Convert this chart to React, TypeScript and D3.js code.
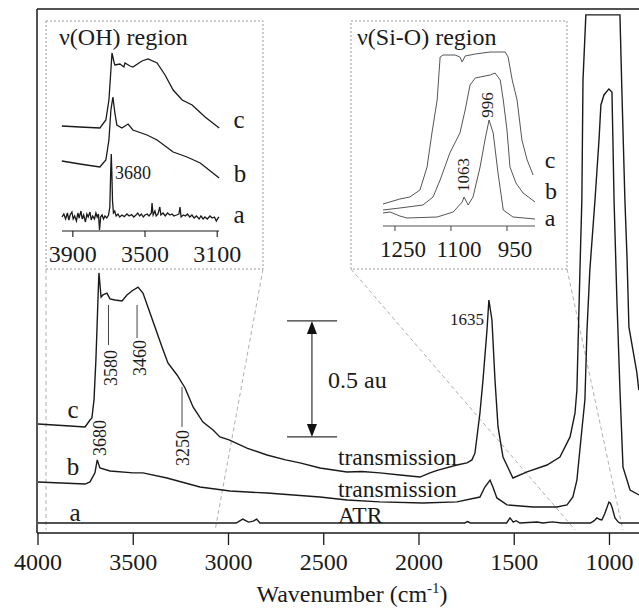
import React from "react";
import * as d3 from "d3";

type Pt = [number, number];

// main spectra: wavenumber (cm-1) vs absorbance (au), vertical offsets included
const mainC: Pt[] = [
  [4000, 0.427], [3832, 0.418], [3753, 0.414], [3727, 0.444], [3717, 0.453], [3706, 0.53],
  [3696, 0.703], [3690, 0.845], [3683, 1.017], [3680, 1.078], [3669, 0.974], [3659, 0.983],
  [3638, 0.991], [3622, 0.966], [3596, 0.961], [3559, 0.957], [3533, 0.983], [3507, 1.0],
  [3475, 1.017], [3449, 0.991], [3423, 0.931], [3386, 0.845], [3349, 0.759], [3318, 0.69],
  [3270, 0.638], [3228, 0.582], [3186, 0.5], [3134, 0.435], [3081, 0.401], [3045, 0.371],
  [2997, 0.358], [2900, 0.322], [2798, 0.293], [2700, 0.272], [2625, 0.259], [2520, 0.237],
  [2378, 0.22], [2300, 0.222], [2205, 0.216], [2100, 0.207], [1995, 0.198], [1942, 0.216],
  [1900, 0.228], [1801, 0.25], [1748, 0.259], [1722, 0.272], [1706, 0.302], [1680, 0.474],
  [1664, 0.616], [1643, 0.832], [1633, 0.961], [1617, 0.875], [1601, 0.616], [1585, 0.414],
  [1559, 0.284], [1507, 0.194], [1433, 0.22], [1328, 0.25], [1260, 0.284], [1207, 0.371],
  [1181, 0.474], [1171, 0.573], [1155, 1.09], [1145, 1.392], [1139, 1.909], [1124, 2.19],
  [945, 2.19], [935, 1.866], [919, 1.392], [908, 1.147], [898, 0.845], [877, 0.746],
  [856, 0.647], [846, 0.573],
];
const mainB: Pt[] = [
  [4000, 0.177], [3753, 0.168], [3727, 0.177], [3701, 0.216], [3689, 0.272], [3675, 0.237],
  [3622, 0.224], [3501, 0.216], [3449, 0.216], [3323, 0.194], [3150, 0.155], [2992, 0.138],
  [2798, 0.129], [2520, 0.112], [2378, 0.099], [2205, 0.091], [1979, 0.086], [1801, 0.091],
  [1680, 0.112], [1654, 0.155], [1627, 0.185], [1612, 0.155], [1591, 0.108], [1538, 0.078],
  [1402, 0.069], [1276, 0.069], [1223, 0.078], [1192, 0.112], [1171, 0.185], [1145, 0.401],
  [1129, 0.53], [1118, 0.832], [1103, 1.091], [1076, 1.392], [1055, 1.651], [1045, 1.802],
  [1029, 1.845], [1003, 1.871], [987, 1.858], [982, 1.651], [976, 1.392], [961, 0.961],
  [945, 0.573], [929, 0.241], [892, 0.142], [845, 0.121],
];
const mainA: Pt[] = [
  [4000, 0], [2960, 0], [2925, 0.017], [2895, 0.004], [2870, 0.008], [2852, 0.017], [2835, 0],
  [1760, 0], [1745, 0.006], [1730, 0], [1540, 0], [1522, 0.022], [1505, 0.004], [1490, 0.01],
  [1470, 0], [1380, 0.004], [1350, 0], [1300, 0.005], [1250, 0], [1100, 0], [1080, 0.01],
  [1066, 0.022], [1050, 0.015], [1040, 0.013], [1025, 0.04], [1003, 0.09], [995, 0.085],
  [987, 0.069], [971, 0.022], [955, 0.005], [945, 0], [845, 0],
];
const mainTicks = [4000, 3500, 3000, 2500, 2000, 1500, 1000];

// v(OH) inset, relative absorbance
const ohC: Pt[] = [
  [3961, 0.525], [3861, 0.52], [3750, 0.515], [3717, 0.555], [3700, 0.655], [3689, 0.805],
  [3683, 0.89], [3672, 0.845], [3667, 0.83], [3639, 0.835], [3617, 0.82], [3611, 0.84],
  [3583, 0.825], [3567, 0.82], [3517, 0.85], [3483, 0.86], [3433, 0.84], [3389, 0.78],
  [3344, 0.705], [3294, 0.655], [3239, 0.63], [3167, 0.57], [3089, 0.515],
];
const ohB: Pt[] = [
  [3961, 0.35], [3861, 0.335], [3750, 0.32], [3717, 0.355], [3700, 0.455], [3689, 0.605],
  [3678, 0.67], [3667, 0.59], [3656, 0.53], [3628, 0.515], [3594, 0.535], [3567, 0.505],
  [3489, 0.48], [3433, 0.455], [3344, 0.395], [3267, 0.37], [3194, 0.34], [3089, 0.265],
];
const ohA: Pt[] = [
  [3960, 0.07], [3950, 0.085], [3940, 0.06], [3930, 0.09], [3922, 0.055], [3915, 0.08],
  [3905, 0.095], [3898, 0.06], [3890, 0.075], [3880, 0.05], [3872, 0.09], [3865, 0.065],
  [3855, 0.1], [3848, 0.06], [3840, 0.08], [3830, 0.045], [3822, 0.085], [3815, 0.07],
  [3805, 0.095], [3798, 0.055], [3790, 0.075], [3780, 0.06], [3772, 0.09], [3765, 0.07],
  [3758, 0.085], [3752, 0.005], [3746, 0.07], [3738, 0.08], [3730, 0.06], [3722, 0.075],
  [3712, 0.065], [3702, 0.08], [3695, 0.12], [3690, 0.3], [3687, 0.385], [3684, 0.3],
  [3680, 0.15], [3675, 0.09], [3668, 0.1], [3660, 0.075], [3650, 0.085], [3640, 0.07],
  [3628, 0.08], [3615, 0.072], [3600, 0.085], [3588, 0.075], [3575, 0.082], [3562, 0.07],
  [3550, 0.08], [3540, 0.09], [3530, 0.075], [3520, 0.085], [3510, 0.07], [3500, 0.08],
  [3488, 0.085], [3478, 0.075], [3465, 0.09], [3461, 0.14], [3455, 0.08], [3445, 0.1],
  [3438, 0.075], [3428, 0.085], [3418, 0.12], [3412, 0.08], [3400, 0.09], [3388, 0.075],
  [3375, 0.09], [3362, 0.08], [3350, 0.085], [3340, 0.075], [3325, 0.08], [3312, 0.085],
  [3306, 0.12], [3300, 0.07], [3288, 0.08], [3276, 0.075], [3265, 0.085], [3252, 0.07],
  [3240, 0.08], [3228, 0.065], [3215, 0.075], [3200, 0.06], [3190, 0.075], [3178, 0.06],
  [3168, 0.07], [3155, 0.06], [3140, 0.075], [3128, 0.065], [3115, 0.07], [3105, 0.05],
  [3095, 0.065], [3090, 0.07],
];
const ohTicks = [3900, 3500, 3100];

// v(Si-O) inset, relative absorbance
const sioC: Pt[] = [
  [1282, 0.11], [1237, 0.135], [1210, 0.145], [1183, 0.18], [1164, 0.295], [1151, 0.465],
  [1137, 0.63], [1129, 0.845], [1121, 0.855], [1089, 0.855], [1076, 0.845], [1070, 0.82],
  [1062, 0.85], [1035, 0.86], [995, 0.87], [955, 0.87], [947, 0.845], [936, 0.73],
  [923, 0.63], [910, 0.43], [896, 0.33], [880, 0.255],
];
const sioB: Pt[] = [
  [1282, 0.08], [1237, 0.09], [1175, 0.105], [1148, 0.145], [1129, 0.23], [1103, 0.365],
  [1076, 0.465], [1062, 0.58], [1049, 0.705], [1035, 0.74], [995, 0.755], [982, 0.765],
  [968, 0.73], [960, 0.63], [950, 0.48], [942, 0.295], [926, 0.215], [907, 0.165], [875, 0.12],
];
const sioA: Pt[] = [
  [1282, 0.065], [1263, 0.07], [1237, 0.05], [1218, 0.04], [1137, 0.045], [1094, 0.07],
  [1070, 0.12], [1065, 0.145], [1054, 0.105], [1041, 0.145], [1022, 0.295], [1009, 0.43],
  [998, 0.53], [987, 0.465], [974, 0.265], [960, 0.08], [934, 0.045], [875, 0.035],
];
const sioTicks = [1250, 1100, 950];

const FONT = "'Liberation Serif', 'Times New Roman', serif";
const INK = "#1a1a1a";

export default function App() {
  const x = d3.scaleLinear().domain([4000, 845]).range([38, 639]);
  const y = d3.scaleLinear().domain([0, 1]).range([523, 291]);
  const line = d3.line<Pt>().x((d) => x(d[0])).y((d) => y(d[1]));

  const xOH = d3.scaleLinear().domain([3960, 3090]).range([62, 219]);
  const yOH = d3.scaleLinear().domain([0, 1]).range([231, 31]);
  const lineOH = d3.line<Pt>().x((d) => xOH(d[0])).y((d) => yOH(d[1]));

  const xSi = d3.scaleLinear().domain([1282, 875]).range([383, 535]);
  const ySi = d3.scaleLinear().domain([0, 1]).range([226, 26]);
  const lineSi = d3.line<Pt>().x((d) => xSi(d[0])).y((d) => ySi(d[1]));

  const axisY = y(-0.043);
  const topY = 9;

  // scale bar (0.5 au)
  const barBase = 0.371, barL = x(2693), barR = x(2430), barX = x(2562);
  const b0 = y(barBase), b1 = y(barBase + 0.5);

  const marks = [
    { wn: 3630, a1: 0.94, a2: 0.767, label: "3580", tw: 3617, ta: 0.668 },
    { wn: 3480, a1: 0.94, a2: 0.797, label: "3460", tw: 3465, ta: 0.711 },
    { wn: 3244, a1: 0.586, a2: 0.414, label: "3250", tw: 3239, ta: 0.323 },
  ];

  const zoomLines = [
    { bx: 46, wn: 3958 },
    { bx: 263, wn: 3070 },
    { bx: 351, wn: 1180 },
    { bx: 567, wn: 930 },
  ];

  const rot = (cx: number, cy: number, t: string, size = 18) => (
    <text
      key={t + cx}
      transform={`translate(${cx},${cy}) rotate(-90)`}
      textAnchor="middle"
      dominantBaseline="central"
      fontSize={size}
    >
      {t}
    </text>
  );

  return (
    <div style={{ position: "absolute", left: 0, top: 0 }}>
      <svg width={639} height={608} style={{ display: "block", background: "#fff" }} fontFamily={FONT} fill={INK}>
        {/* zoom guide lines */}
        {zoomLines.map((z, i) => (
          <line key={i} x1={z.bx} y1={269} x2={x(z.wn)} y2={530} stroke="#b0b0b0" strokeDasharray="4,3" strokeWidth={1} />
        ))}

        {/* frame */}
        <line x1={37} y1={topY} x2={639} y2={topY} stroke={INK} strokeWidth={1.5} />
        <line x1={37} y1={topY} x2={37} y2={axisY} stroke={INK} strokeWidth={1.5} />
        <line x1={37} y1={axisY} x2={639} y2={axisY} stroke={INK} strokeWidth={1.5} />
        {mainTicks.map((t) => (
          <g key={t}>
            <line x1={x(t)} y1={axisY} x2={x(t)} y2={axisY + 12} stroke={INK} strokeWidth={1.3} />
            <text x={x(t)} y={570} textAnchor="middle" fontSize={24}>{t}</text>
          </g>
        ))}
        <text x={352} y={602} textAnchor="middle" fontSize={24}>
          Wavenumber (cm<tspan dy={-9} fontSize={15}>-1</tspan><tspan dy={9}>)</tspan>
        </text>

        {/* spectra */}
        <path d={line(mainA) || ""} fill="none" stroke={INK} strokeWidth={1.4} />
        <path d={line(mainB) || ""} fill="none" stroke={INK} strokeWidth={1.4} />
        <path d={line(mainC) || ""} fill="none" stroke={INK} strokeWidth={1.4} />

        {/* peak marks */}
        {marks.map((m) => (
          <g key={m.label}>
            <line x1={x(m.wn)} y1={y(m.a1)} x2={x(m.wn)} y2={y(m.a2)} stroke="#444" strokeWidth={1} />
            {rot(x(m.tw), y(m.ta), m.label)}
          </g>
        ))}
        {rot(x(3675), y(0.366), "3680")}
        <text x={x(1748)} y={y(0.879)} textAnchor="middle" dominantBaseline="central" fontSize={17}>1635</text>

        {/* trace labels */}
        <text x={73} y={418} textAnchor="middle" fontSize={25}>c</text>
        <text x={73} y={475} textAnchor="middle" fontSize={25}>b</text>
        <text x={75} y={521} textAnchor="middle" fontSize={25}>a</text>
        <text x={338} y={465} fontSize={23.5}>transmission</text>
        <text x={338} y={497} fontSize={23.5}>transmission</text>
        <text x={338} y={523} fontSize={23.5}>ATR</text>

        {/* scale bar */}
        <line x1={barL} y1={b1} x2={barR} y2={b1} stroke="#333" strokeWidth={1.2} />
        <line x1={barL} y1={b0} x2={barR} y2={b0} stroke="#333" strokeWidth={1.2} />
        <line x1={barX} y1={b1 + 8} x2={barX} y2={b0 - 8} stroke="#333" strokeWidth={1.2} />
        <path d={`M${barX},${b1} l-5,13 l10,0 Z`} fill="#111" />
        <path d={`M${barX},${b0} l-5,-13 l10,0 Z`} fill="#111" />
        <text x={328} y={388} fontSize={24}>0.5 au</text>

        {/* v(OH) inset */}
        <rect x={46} y={21} width={217} height={248} fill="#fff" stroke="#999" strokeDasharray="2,2" strokeWidth={1} />
        <text x={59} y={45} fontSize={24}>{"\u03BD(OH) region"}</text>
        <line x1={62} y1={231} x2={219} y2={231} stroke={INK} strokeWidth={1.2} />
        {ohTicks.map((t) => (
          <g key={t}>
            <line x1={xOH(t)} y1={231} x2={xOH(t)} y2={237} stroke={INK} strokeWidth={1.1} />
            <text x={xOH(t)} y={262} textAnchor="middle" fontSize={24}>{t}</text>
          </g>
        ))}
        <path d={lineOH(ohC) || ""} fill="none" stroke={INK} strokeWidth={1.3} />
        <path d={lineOH(ohB) || ""} fill="none" stroke={INK} strokeWidth={1.3} />
        <path d={lineOH(ohA) || ""} fill="none" stroke={INK} strokeWidth={1.3} />
        <text x={xOH(3688) + 4} y={yOH(0.29)} dominantBaseline="central" fontSize={18}>3680</text>
        <text x={239} y={128} textAnchor="middle" fontSize={25}>c</text>
        <text x={240} y={182} textAnchor="middle" fontSize={25}>b</text>
        <text x={239} y={223} textAnchor="middle" fontSize={25}>a</text>

        {/* v(Si-O) inset */}
        <rect x={351} y={21} width={216} height={248} fill="#fff" stroke="#999" strokeDasharray="2,2" strokeWidth={1} />
        <text x={357} y={45} fontSize={24}>{"\u03BD(Si-O) region"}</text>
        <line x1={383} y1={226} x2={535} y2={226} stroke="#555" strokeWidth={1.2} />
        {sioTicks.map((t) => (
          <g key={t}>
            <line x1={xSi(t)} y1={226} x2={xSi(t)} y2={231} stroke="#555" strokeWidth={1.1} />
            <text x={xSi(t) + 8} y={257} textAnchor="middle" fontSize={23}>{t}</text>
          </g>
        ))}
        <path d={lineSi(sioC) || ""} fill="none" stroke="#555" strokeWidth={1} />
        <path d={lineSi(sioB) || ""} fill="none" stroke="#555" strokeWidth={1} />
        <path d={lineSi(sioA) || ""} fill="none" stroke="#555" strokeWidth={1} />
        {rot(xSi(1066), ySi(0.255), "1063", 17)}
        {rot(xSi(1001), ySi(0.605), "996", 17)}
        <text x={550} y={168} textAnchor="middle" fontSize={24}>c</text>
        <text x={551} y={199} textAnchor="middle" fontSize={24}>b</text>
        <text x={550} y={226} textAnchor="middle" fontSize={24}>a</text>
      </svg>
    </div>
  );
}
